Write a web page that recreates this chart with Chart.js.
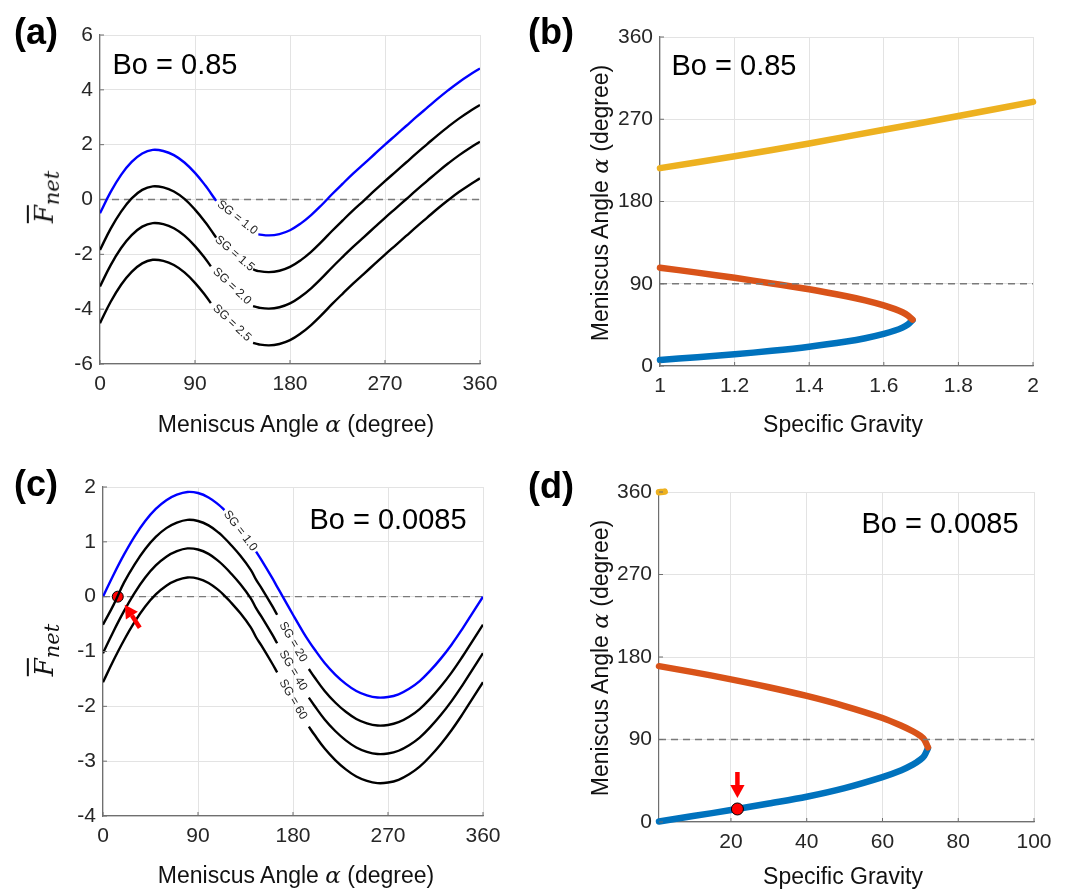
<!DOCTYPE html>
<html>
<head>
<meta charset="utf-8">
<script src="https://cdn.jsdelivr.net/npm/chart.js@4.4.1/dist/chart.umd.min.js"></script>
<style>
  body { margin: 0; background: #fff; }
  #fig { position: relative; width: 1072px; height: 890px; font-family: "Liberation Sans", Arial, sans-serif; color: #000; }
  #fig canvas { position: absolute; }
  .txt { position: absolute; transform: translate(-50%, -50%); white-space: nowrap; line-height: 1; }
  .panel { font-weight: bold; font-size: 36px; }
  .bo { font-size: 29px; }
  .xt { font-size: 23px; color: #111; }
  .yt { font-size: 23px; color: #111; transform: translate(-50%, -50%) rotate(-90deg); }
  .m { font-family: "DejaVu Serif", serif; font-style: italic; }
  .fnet { font-size: 26px; }
  .fnet .bar { text-decoration: overline; text-decoration-thickness: 1.5px; }
  .fnet sub { font-size: 21px; vertical-align: -0.3em; }
</style>
</head>
<body>
<div id="fig">
  <canvas id="chartA" width="536" height="445" style="left:0;top:0"></canvas>
  <canvas id="chartB" width="536" height="445" style="left:536px;top:0"></canvas>
  <canvas id="chartC" width="536" height="445" style="left:0;top:445px"></canvas>
  <canvas id="chartD" width="536" height="445" style="left:536px;top:445px"></canvas>

  <div class="txt panel" style="left:36px;top:32px">(a)</div>
  <div class="txt panel" style="left:551px;top:32px">(b)</div>
  <div class="txt panel" style="left:36px;top:484px">(c)</div>
  <div class="txt panel" style="left:551px;top:486px">(d)</div>

  <div class="txt bo" style="left:175px;top:64px">Bo = 0.85</div>
  <div class="txt bo" style="left:734px;top:65px">Bo = 0.85</div>
  <div class="txt bo" style="left:388px;top:519px">Bo = 0.0085</div>
  <div class="txt bo" style="left:940px;top:523px">Bo = 0.0085</div>

  <div class="txt xt" style="left:296px;top:424px">Meniscus Angle <span class="m">α</span> (degree)</div>
  <div class="txt xt" style="left:843px;top:424px">Specific Gravity</div>
  <div class="txt xt" style="left:296px;top:875px">Meniscus Angle <span class="m">α</span> (degree)</div>
  <div class="txt xt" style="left:843px;top:876px">Specific Gravity</div>

  <div class="txt yt" style="left:600px;top:203px">Meniscus Angle <span class="m">α</span> (degree)</div>
  <div class="txt yt" style="left:600px;top:658px">Meniscus Angle <span class="m">α</span> (degree)</div>
  <div class="txt yt m fnet" style="left:47px;top:197px"><span class="bar">F</span><sub>net</sub></div>
  <div class="txt yt m fnet" style="left:47px;top:650px"><span class="bar">F</span><sub>net</sub></div>
</div>

<script>
// (a) net force vs meniscus angle, Bo = 0.85
const angleA = [0, 10, 20, 30, 40, 50, 60, 70, 80, 90, 100, 105, 110, 120, 130, 140, 145,
  150, 160, 170, 180, 190, 200, 210, 220, 230, 240, 250, 260, 270, 280, 290, 300, 310, 320, 330, 340, 350, 360];
const fSG10a = [-0.50, 0.27, 0.90, 1.37, 1.68, 1.81, 1.77, 1.62, 1.35, 0.97, 0.50, 0.23, -0.05, null, null, null, null,
  -1.27, -1.31, -1.26, -1.12, -0.88, -0.57, -0.20, 0.20, 0.58, 0.95, 1.30, 1.65, 2.00, 2.34, 2.68, 3.02, 3.35, 3.68, 3.99, 4.28, 4.54, 4.78];
const fSG15a = [-1.84, -1.07, -0.44, 0.04, 0.35, 0.48, 0.44, 0.29, 0.02, -0.37, -0.84, -1.11, -1.39, null, null, null, -2.55,
  -2.61, -2.65, -2.60, -2.46, -2.22, -1.91, -1.54, -1.14, -0.76, -0.39, -0.04, 0.32, 0.67, 1.01, 1.35, 1.69, 2.02, 2.35, 2.66, 2.95, 3.21, 3.45];
const fSG20a = [-3.17, -2.40, -1.77, -1.30, -0.99, -0.86, -0.90, -1.05, -1.32, -1.70, -2.17, -2.44, null, null, null, null, -3.89,
  -3.94, -3.98, -3.93, -3.79, -3.55, -3.24, -2.87, -2.47, -2.09, -1.72, -1.37, -1.02, -0.67, -0.33, 0.01, 0.35, 0.68, 1.01, 1.32, 1.61, 1.87, 2.11];
const fSG25a = [-4.51, -3.74, -3.11, -2.64, -2.33, -2.20, -2.24, -2.39, -2.66, -3.04, -3.51, -3.78, null, null, null, null, -5.23,
  -5.28, -5.32, -5.27, -5.13, -4.89, -4.58, -4.21, -3.81, -3.43, -3.06, -2.71, -2.36, -2.01, -1.67, -1.33, -0.99, -0.66, -0.33, -0.02, 0.27, 0.53, 0.77];
const labelsA = ["SG = 1.0", "SG = 1.5", "SG = 2.0", "SG = 2.5"];
const xTicksA = [0, 90, 180, 270, 360];
const yTicksA = [-6, -4, -2, 0, 2, 4, 6];

// (b) equilibrium angle vs specific gravity, Bo = 0.85
const sgB = [1.0, 1.1, 1.2, 1.3, 1.4, 1.5, 1.55, 1.6, 1.63, 1.65, 1.665, 1.677];
const redB = [107.6, 102.2, 96.5, 90.3, 83.9, 76.3, 71.8, 66.3, 62.2, 58.8, 55.2, 50.8];
const blueB = [6.6, 9.6, 12.8, 16.6, 21.1, 26.8, 30.4, 35.2, 38.8, 42.0, 45.6, 50.2];
const sgYellowB = [1.0, 1.2, 1.4, 1.6, 1.8, 2.0];
const yellowB = [216.5, 229.5, 243.5, 258.5, 273.5, 289.0];
const xTicksB = [1, 1.2, 1.4, 1.6, 1.8, 2];
const yTicksAngle = [0, 90, 180, 270, 360];

// (c) net force vs meniscus angle, Bo = 0.0085
const angleC = [0, 10, 20, 30, 40, 50, 60, 70, 80, 90, 100, 110, 115, 120, 130, 140, 145, 150, 160, 165,
  170, 180, 190, 195, 200, 210, 220, 230, 240, 250, 260, 270, 280, 290, 300, 310, 320, 330, 340, 350, 360];
const fSG1c = [0.00, 0.40, 0.77, 1.10, 1.38, 1.60, 1.76, 1.86, 1.91, 1.89, 1.81, 1.67, 1.58, null, null, null, 0.82, 0.67, 0.35, 0.18,
  0.01, -0.33, -0.66, -0.81, -0.95, -1.21, -1.42, -1.59, -1.72, -1.80, -1.84, -1.83, -1.78, -1.68, -1.54, -1.35, -1.13, -0.88, -0.60, -0.30, 0.00];
const fSG20c = [-0.51, -0.15, 0.26, 0.59, 0.87, 1.09, 1.25, 1.35, 1.40, 1.38, 1.30, 1.16, 1.07, 0.97, 0.75, 0.49, 0.31, 0.16, -0.16, -0.33,
  null, null, null, -1.32, -1.46, -1.72, -1.93, -2.10, -2.23, -2.31, -2.35, -2.34, -2.29, -2.19, -2.05, -1.86, -1.64, -1.39, -1.11, -0.81, -0.51];
const fSG40c = [-1.03, -0.63, -0.26, 0.07, 0.35, 0.57, 0.73, 0.83, 0.88, 0.86, 0.78, 0.64, 0.55, 0.45, 0.23, -0.03, -0.21, -0.36, -0.68, -0.85,
  null, null, null, -1.84, -1.98, -2.24, -2.45, -2.62, -2.75, -2.83, -2.87, -2.86, -2.81, -2.71, -2.57, -2.38, -2.16, -1.91, -1.63, -1.33, -1.03];
const fSG60c = [-1.56, -1.16, -0.79, -0.46, -0.18, 0.04, 0.20, 0.30, 0.35, 0.33, 0.25, 0.11, 0.02, -0.08, -0.30, -0.56, -0.74, -0.89, -1.21, -1.38,
  null, null, null, -2.37, -2.51, -2.77, -2.98, -3.15, -3.28, -3.36, -3.40, -3.39, -3.34, -3.24, -3.10, -2.91, -2.69, -2.44, -2.16, -1.86, -1.56];
const labelsC = ["SG = 1.0", "SG = 20", "SG = 40", "SG = 60"];
const markC = [14, 0];
const yTicksC = [-4, -3, -2, -1, 0, 1, 2];

// (d) equilibrium angle vs specific gravity, Bo = 0.0085
const sgD = [1, 10, 20, 30, 40, 50, 60, 65, 68, 70, 71, 72];
const redD = [170.0, 163.5, 155.6, 147.0, 137.5, 126.5, 113.5, 105.0, 99.0, 94.0, 90.0, 81.5];
const blueD = [0.5, 6.5, 13.0, 20.2, 27.6, 37.0, 49.0, 56.5, 62.5, 68.0, 72.0, 80.5];
const sgYellowD = [1, 2.5];
const yellowD = [359.8, 360.4];
const markD = [21.7, 14.2];
const xTicksD = [20, 40, 60, 80, 100];

const W = 536, H = 445;
const AXIS = "#6f6f6f";
const FONT = '"Liberation Sans", Arial, sans-serif';
const TICK_FONT = { family: FONT, size: 21 };

const pts = (xs, ys) => xs.map((x, i) => ({ x, y: ys[i] }));
const fmt = v => String(Math.round(v * 10) / 10);

function curve(xs, ys, color, width, extra) {
  return Object.assign({
    data: pts(xs, ys), borderColor: color, borderWidth: width,
    pointRadius: 0, tension: 0.4, fill: false, spanGaps: false
  }, extra || {});
}
function refLine(x0, x1, y) {
  return { data: [{ x: x0, y }, { x: x1, y }], borderColor: "#7a7a7a", borderWidth: 1.3,
    borderDash: [7, 5], pointRadius: 0, fill: false };
}
function marker(p, r) {
  return { data: [{ x: p[0], y: p[1] }], showLine: false, pointRadius: r,
    pointBackgroundColor: "#ff0000", pointBorderColor: "#000", pointBorderWidth: 1 };
}

// line labels placed in the break of each curve, rotated along it
const gapLabels = {
  id: "gapLabels",
  afterDatasetsDraw(chart, args, opts) {
    if (!opts.labels) return;
    const { ctx, scales: { x, y } } = chart;
    opts.labels.forEach((text, i) => {
      const d = chart.data.datasets[i].data;
      const g = d.findIndex(p => p.y === null);
      if (g < 1) return;
      let k = g;
      while (k < d.length && d[k].y === null) k++;
      const x1 = x.getPixelForValue(d[g - 1].x), y1 = y.getPixelForValue(d[g - 1].y);
      const x2 = x.getPixelForValue(d[k].x), y2 = y.getPixelForValue(d[k].y);
      ctx.save();
      ctx.translate((x1 + x2) / 2, (y1 + y2) / 2);
      ctx.rotate(Math.atan2(y2 - y1, x2 - x1));
      ctx.font = "12px " + FONT;
      ctx.fillStyle = "#222";
      ctx.textAlign = "center";
      ctx.textBaseline = "middle";
      ctx.fillText(text, 0, 0);
      ctx.restore();
    });
  }
};

// red arrows pointing at the marked point
const pointer = {
  id: "pointer",
  afterDatasetsDraw(chart, args, opts) {
    if (!opts.items) return;
    const ctx = chart.ctx;
    opts.items.forEach(a => {
      const el = chart.getDatasetMeta(a.dataset).data[0];
      const tx = el.x + a.tail[0], ty = el.y + a.tail[1];
      const hx = el.x + a.tip[0], hy = el.y + a.tip[1];
      const ang = Math.atan2(hy - ty, hx - tx);
      const bx = hx - a.head * Math.cos(ang), by = hy - a.head * Math.sin(ang);
      const hw = a.head * 0.55;
      ctx.save();
      ctx.strokeStyle = ctx.fillStyle = "#ff0000";
      ctx.lineWidth = a.width;
      ctx.beginPath(); ctx.moveTo(tx, ty); ctx.lineTo(bx, by); ctx.stroke();
      ctx.beginPath();
      ctx.moveTo(hx, hy);
      ctx.lineTo(bx + hw * Math.sin(ang), by - hw * Math.cos(ang));
      ctx.lineTo(bx - hw * Math.sin(ang), by + hw * Math.cos(ang));
      ctx.closePath(); ctx.fill();
      ctx.restore();
    });
  }
};

// short tick marks pointing into the plot
const innerTicks = {
  id: "innerTicks",
  afterDraw(chart) {
    const { ctx, chartArea: a, scales: { x, y } } = chart;
    ctx.save();
    ctx.strokeStyle = AXIS;
    ctx.lineWidth = 1;
    ctx.beginPath();
    x.ticks.forEach(t => { const p = x.getPixelForValue(t.value); ctx.moveTo(p, a.bottom); ctx.lineTo(p, a.bottom - 4); });
    y.ticks.forEach(t => { const p = y.getPixelForValue(t.value); ctx.moveTo(a.left, p); ctx.lineTo(a.left + 4, p); });
    ctx.stroke();
    ctx.restore();
  }
};

Chart.register(gapLabels, pointer, innerTicks);

function axis(min, max, ticks, fit, pad) {
  return {
    type: "linear", min, max,
    afterBuildTicks: s => { s.ticks = ticks.map(v => ({ value: v })); },
    afterFit: fit,
    grid: { color: "#e3e3e3", lineWidth: 1, drawTicks: false },
    border: { color: AXIS, width: 1.2 },
    ticks: { color: "#262626", font: TICK_FONT, callback: fmt, padding: pad }
  };
}

function makePanel(id, box, xs, ys, datasets, plugins) {
  return new Chart(document.getElementById(id), {
    type: "line",
    data: { datasets },
    options: {
      responsive: false, animation: false, devicePixelRatio: 1,
      layout: { padding: { left: 0, top: box.T, right: W - box.R, bottom: 0 } },
      plugins: Object.assign({ legend: { display: false }, tooltip: { enabled: false } }, plugins),
      scales: {
        x: axis(xs[0], xs[1], xs[2], s => { s.height = H - box.B; }, 8),
        y: axis(ys[0], ys[1], ys[2], s => { s.width = box.L; }, 7)
      }
    }
  });
}

const BLUE = "#0000ff", BLACK = "#000000";
const C_BLUE = "#0072bd", C_RED = "#d95319", C_YELLOW = "#edb120";

makePanel("chartA", { L: 100, T: 35, R: 480, B: 364 },
  [0, 360, xTicksA], [-6, 6, yTicksA],
  [
    curve(angleA, fSG10a, BLUE, 2.4),
    curve(angleA, fSG15a, BLACK, 2.4),
    curve(angleA, fSG20a, BLACK, 2.4),
    curve(angleA, fSG25a, BLACK, 2.4),
    refLine(0, 360, 0)
  ],
  { gapLabels: { labels: labelsA } });

const bold = { borderCapStyle: "round", clip: false, tension: 0.3 };
makePanel("chartB", { L: 124, T: 37, R: 497, B: 366 },
  [1, 2, xTicksB], [0, 360, yTicksAngle],
  [
    refLine(1, 2, 90),
    curve(sgB, redB, C_RED, 6.5, bold),
    curve(sgB, blueB, C_BLUE, 6.5, bold),
    curve(sgYellowB, yellowB, C_YELLOW, 6.5, bold)
  ]);

makePanel("chartC", { L: 103, T: 42, R: 483, B: 371 },
  [0, 360, xTicksA], [-4, 2, yTicksC],
  [
    curve(angleC, fSG1c, BLUE, 2.4),
    curve(angleC, fSG20c, BLACK, 2.4),
    curve(angleC, fSG40c, BLACK, 2.4),
    curve(angleC, fSG60c, BLACK, 2.4),
    marker(markC, 5.5),
    refLine(0, 360, 0)
  ],
  {
    gapLabels: { labels: labelsC },
    pointer: { items: [{ dataset: 4, tail: [22, 31], tip: [7, 8], head: 13, width: 4.5 }] }
  });

makePanel("chartD", { L: 123, T: 47, R: 498, B: 377 },
  [1, 100, xTicksD], [0, 360, yTicksAngle],
  [
    marker(markD, 6),
    refLine(1, 100, 90),
    curve(sgD, redD, C_RED, 6.5, bold),
    curve(sgD, blueD, C_BLUE, 6.5, bold),
    curve(sgYellowD, yellowD, C_YELLOW, 6.5, bold)
  ],
  { pointer: { items: [{ dataset: 0, tail: [0, -37], tip: [0, -11], head: 13, width: 4.5 }] } });
</script>
</body>
</html>
